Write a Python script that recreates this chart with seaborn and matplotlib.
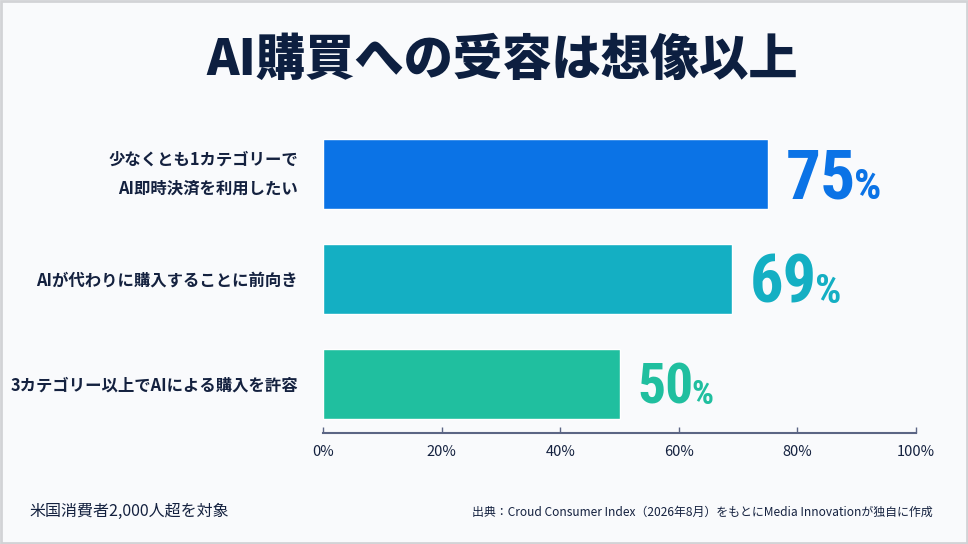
import matplotlib
matplotlib.use("Agg")
import matplotlib.pyplot as plt
import matplotlib.transforms as mtrans
from matplotlib import font_manager as fm
from matplotlib.patches import Rectangle
import seaborn as sns
import pandas as pd

# ---- data ----
categories = ["少なくとも1カテゴリーで\nAI即時決済を利用したい",
              "AIが代わりに購入することに前向き",
              "3カテゴリー以上でAIによる購入を許容"]
values = [75, 69, 50]
bar_colors = ["#0B73E6", "#14AFC3", "#20BF9F"]
label_sizes = [50, 48, 40]
xticks = [0, 20, 40, 60, 80, 100]
xtick_labels = ["0%", "20%", "40%", "60%", "80%", "100%"]
title = "AI購買への受容は想像以上"
note_left = "米国消費者2,000人超を対象"
note_right = "出典：Croud Consumer Index（2026年8月）をもとにMedia Innovationが独自に作成"

sns.set_theme(style="white")
CJK = "Noto Sans CJK JP"
plt.rcParams["font.family"] = [CJK, "DejaVu Sans"]

names = {f.name for f in fm.fontManager.ttflist}
num_font = next((n for n in ["Liberation Sans Narrow", "Roboto Condensed",
                             "Arial Narrow", "Liberation Sans"] if n in names),
                "DejaVu Sans")

BG = "#F9FAFC"
NAVY = "#14213F"
AXC = "#5B6584"

fig = plt.figure(figsize=(9.68, 5.44), dpi=100, facecolor=BG)
ax = fig.add_axes([323 / 968, 1 - 433 / 544, 593 / 968, 313 / 544])
ax.set_facecolor(BG)

df = pd.DataFrame({"cat": categories, "val": values})
sns.barplot(data=df, x="val", y="cat", hue="cat", palette=bar_colors,
            width=0.66, saturation=1, legend=False, ax=ax, orient="h")

ax.set_xlim(0, 100)
ax.set_ylim(2.467, -0.514)
ax.set_xlabel("")
ax.set_ylabel("")
for s in ["top", "right", "left"]:
    ax.spines[s].set_visible(False)
ax.spines["bottom"].set_color(AXC)
ax.spines["bottom"].set_linewidth(1.5)

ax.set_xticks(xticks)
ax.set_xticklabels(xtick_labels)
ax.tick_params(axis="x", direction="in", length=4, width=1, color=AXC,
               labelsize=10.5, labelcolor=NAVY, pad=9, bottom=True)
ax.tick_params(axis="y", length=0, pad=18)
ax.set_yticks(range(len(categories)))
ax.set_yticklabels(categories, fontsize=11.8, fontweight="bold", color=NAVY,
                   linespacing=1.75)
for t in ax.get_yticklabels():
    t.set_multialignment("right")
    if "\n" in t.get_text():
        t.set_va("center")

# title & notes
fig.text(502 / 968, 1 - 60 / 544, title, ha="center", va="center",
         fontsize=35.5, fontweight="heavy", color="#0D1F40")
fig.text(29 / 968, 1 - 511 / 544, note_left, ha="left", va="center",
         fontsize=11.5, color=NAVY)
fig.text(933 / 968, 1 - 512 / 544, note_right, ha="right", va="center",
         fontsize=8.6, color=NAVY)

# value labels
fig.canvas.draw()
renderer = fig.canvas.get_renderer()
ident = mtrans.IdentityTransform()
px = fig.dpi / 72.0
for i, (v, c, fs) in enumerate(zip(values, bar_colors, label_sizes)):
    xd, yd = ax.transData.transform((v, i))
    base = yd - fs * 0.716 * px / 2
    t = ax.text(xd + 18, base, f"{v}", transform=ident, ha="left",
                va="baseline", fontsize=fs, fontweight="bold", color=c,
                family=[num_font, "DejaVu Sans"], clip_on=False)
    bb = t.get_window_extent(renderer=renderer)
    ax.text(bb.x1 - 2, base, "%", transform=ident, ha="left", va="baseline",
            fontsize=fs * 0.62, fontweight="bold", color=c,
            family=[num_font, "DejaVu Sans"], clip_on=False)

# outer frame
fig.patches.append(Rectangle((0.001, 0.002), 0.998, 0.996, transform=fig.transFigure,
                             fill=False, edgecolor="#D2D3D6", linewidth=2))

fig.savefig("out.png", dpi=100, facecolor=BG)
